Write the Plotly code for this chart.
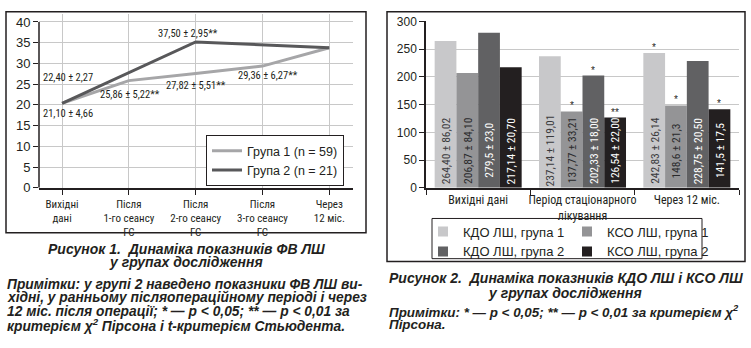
import plotly.graph_objects as go

W, H = 751, 348
def fx(p): return p / W
def fy(p): return (H - p) / H

TXT = "#231f20"
FONT = "Liberation Sans, Arial, sans-serif"
NARROW = "Liberation Sans Narrow, Arial Narrow, Roboto Condensed, Liberation Sans, sans-serif"

# ---------------- Figure 1 data ----------------
stages = ["Вихідні<br>дані", "Після<br>1-го сеансу<br>ГС", "Після<br>2-го сеансу<br>ГС",
          "Після<br>3-го сеансу<br>ГС", "Через<br>12 міс."]
group1 = [20.4, 25.86, 27.6, 29.36, 33.8]
group2 = [20.4, None, 35.2, None, 33.8]
line_labels = ["22,40 ± 2,27", "21,10 ± 4,66", "25,86 ± 5,22**", "27,82 ± 5,51**",
               "29,36 ± 6,27**", "34,0 ± 2,6**", "35,65 ± 5,25*", "37,50 ± 2,95**"]
# label anchor (x index, y value, xanchor)
label_pos = [(-0.314, 26.6, "left"), (-0.314, 18.0, "left"), (1.01, 22.4, "center"),
             (2.0, 24.7, "center"), (3.08, 27.0, "center"), (4.37, 30.25, "right"),
             (4.42, 36.7, "right"), (1.88, 37.2, "center")]

# ---------------- Figure 2 data ----------------
periods = ["Вихідні дані", "Період стаціонарного<br>лікування", "Через 12 міс."]
series_names = ["КДО ЛШ, група 1", "КСО ЛШ, група 1", "КДО ЛШ, група 2", "КСО ЛШ, група 2"]
kdo1 = [264.40, 237.14, 242.83]
kso1 = [206.87, 137.77, 148.6]
kdo2 = [279.5, 202.33, 228.75]
kso2 = [217.14, 126.54, 141.5]
kdo1_txt = ["264,40 ± 86,02", "237,14 ± 119,01", "242,83 ± 26,14"]
kso1_txt = ["206,87 ± 84,10", "137,77 ± 33,21", "148,6 ± 21,3"]
kdo2_txt = ["279,5 ± 23,0", "202,33 ± 18,00", "228,75 ± 20,50"]
kso2_txt = ["217,14 ± 20,70", "126,54 ± 22,00", "141,5 ± 17,5"]
kdo1_sig = ["", "", "*"]
kso1_sig = ["", "*", "*"]
kdo2_sig = ["", "*", ""]
kso2_sig = ["", "**", "*"]
bar_colors = ["#c8c8ca", "#949496", "#616163", "#231f20"]
txt_colors = ["#3a3a3c", "#2a2a2c", "#ffffff", "#ffffff"]

fig = go.Figure()

# lines
fig.add_trace(go.Scatter(x=list(range(5)), y=group1, mode="lines", name="Група 1 (n = 59)",
                         line=dict(color="#a6a6a8", width=3), xaxis="x", yaxis="y",
                         legend="legend", connectgaps=True))
fig.add_trace(go.Scatter(x=list(range(5)), y=group2, mode="lines", name="Група 2 (n = 21)",
                         line=dict(color="#58585a", width=3), xaxis="x", yaxis="y",
                         legend="legend", connectgaps=True))

# bars
vals = [kdo1, kso1, kdo2, kso2]
txts = [kdo1_txt, kso1_txt, kdo2_txt, kso2_txt]
sigs = [kdo1_sig, kso1_sig, kdo2_sig, kso2_sig]
for j in range(4):
    fig.add_trace(go.Bar(x=periods, y=vals[j], name=series_names[j], marker=dict(color=bar_colors[j], line=dict(width=0)),
                         xaxis="x2", yaxis="y2", showlegend=False))
# legend proxies
for j in range(4):
    fig.add_trace(go.Scatter(x=[None], y=[None], mode="markers", name=series_names[j],
                             marker=dict(symbol="square", size=10, color=bar_colors[j]),
                             xaxis="x2", yaxis="y2", legend="legend2" if j % 2 == 0 else "legend3"))

BARGAP = 0.166
bw = (1 - BARGAP) / 4
annotations = []
for j in range(4):
    for i in range(3):
        xp = i + (j - 1.5) * bw
        annotations.append(dict(x=xp, y=67, xref="x2", yref="y2", text=txts[j][i], textangle=-90,
                                showarrow=False, font=dict(family=NARROW, size=11.5, color=txt_colors[j])))
        if sigs[j][i]:
            annotations.append(dict(x=xp, y=vals[j][i], xref="x2", yref="y2", text=sigs[j][i],
                                    showarrow=False, yanchor="bottom", yshift=-2,
                                    font=dict(family=FONT, size=10, color=TXT)))

for t, (xv, yv, xa) in zip(line_labels, label_pos):
    annotations.append(dict(x=xv, y=yv, xref="x", yref="y", text=t, xanchor=xa, showarrow=False,
                            font=dict(family=NARROW, size=10.5, color=TXT)))

# captions
cap = dict(family=FONT, size=14, color=TXT)
notef = dict(family=FONT, size=13.8, color=TXT)
notef2 = dict(family=FONT, size=13.4, color=TXT)
captions = [
    dict(x=fx(186), y=fy(253), xanchor="center", text="<b><i>Рисунок 1.  Динаміка показників ФВ ЛШ</i></b>", font=cap),
    dict(x=fx(186), y=fy(267), xanchor="center", text="<b><i>у групах дослідження</i></b>", font=cap),
    dict(x=fx(6), y=fy(290), xanchor="left", text="<b><i>Примітки: у групі 2 наведено показники ФВ ЛШ ви-</i></b>", font=notef),
    dict(x=fx(6), y=fy(304), xanchor="left", text="<b><i>хідні, у ранньому післяопераційному періоді і через</i></b>", font=notef),
    dict(x=fx(6), y=fy(318), xanchor="left", text="<b><i>12 міс. після операції; * — p &lt; 0,05; ** — p &lt; 0,01 за</i></b>", font=notef),
    dict(x=fx(6), y=fy(332), xanchor="left", text="<b><i>критерієм χ<sup>2</sup> Пірсона і t-критерієм Стьюдента.</i></b>", font=notef),
    dict(x=fx(388), y=fy(283), xanchor="left", text="<b><i>Рисунок 2.  Динаміка показників КДО ЛШ і КСО ЛШ</i></b>", font=cap),
    dict(x=fx(565), y=fy(299), xanchor="center", text="<b><i>у групах дослідження</i></b>", font=cap),
    dict(x=fx(388), y=fy(318), xanchor="left", text="<b><i>Примітки: * — p &lt; 0,05; ** — p &lt; 0,01 за критерієм χ<sup>2</sup></i></b>", font=notef2),
    dict(x=fx(388), y=fy(332), xanchor="left", text="<b><i>Пірсона.</i></b>", font=notef2),
]
for a in captions:
    a.update(xref="paper", yref="paper", yanchor="middle", showarrow=False, borderpad=0)
annotations += captions

shapes = [
    dict(type="rect", xref="paper", yref="paper", x0=fx(6), x1=fx(366), y0=fy(236), y1=fy(5),
         line=dict(color="#231f20", width=1.5)),
    dict(type="rect", xref="paper", yref="paper", x0=fx(387), x1=fx(745), y0=fy(266), y1=fy(5),
         line=dict(color="#231f20", width=1.5)),
    dict(type="rect", xref="paper", yref="paper", x0=fx(432), x1=fx(702), y0=fy(263), y1=fy(221),
         line=dict(color="#231f20", width=1)),
    dict(type="line", xref="x domain", yref="y", x0=0, x1=0, y0=0, y1=40,
         line=dict(color="#231f20", width=1.5)),
]

grid = "#c8c8c8"
fig.update_layout(
    width=W, height=H, margin=dict(l=0, r=0, t=0, b=0),
    paper_bgcolor="white", plot_bgcolor="white",
    font=dict(family=FONT, color=TXT),
    barmode="group", bargap=BARGAP, bargroupgap=0,
    xaxis=dict(domain=[fx(39), fx(353)], range=[-0.345, 4.355], tickvals=list(range(5)), ticktext=stages,
               showgrid=True, gridcolor=grid, gridwidth=1, zeroline=False, showline=True,
               linecolor="#231f20", linewidth=1.5, ticks="outside", ticklen=5, tickcolor="#231f20",
               tickangle=0, tickfont=dict(family=NARROW, size=11, color=TXT), anchor="y"),
    yaxis=dict(domain=[fy(189), fy(7)], range=[0, 42], tickvals=list(range(0, 41, 5)),
               showgrid=True, gridcolor=grid, gridwidth=1, zeroline=False, showline=False,
               ticks="outside", ticklen=5, tickcolor="#231f20",
               tickfont=dict(family=FONT, size=13, color=TXT), anchor="x"),
    xaxis2=dict(domain=[fx(426), fx(739)], type="category", tickson="boundaries", ticks="outside",
                ticklen=5, tickcolor="#231f20", showline=True, linecolor="#231f20", linewidth=1.5,
                tickangle=0, showgrid=False, tickfont=dict(family=NARROW, size=12, color=TXT), anchor="y2"),
    yaxis2=dict(domain=[fy(189), fy(15)], range=[0, 300], dtick=50, showgrid=True, gridcolor=grid,
                zeroline=False, showline=True, linecolor="#231f20", linewidth=1.5, ticks="outside",
                ticklen=5, tickcolor="#231f20", tickfont=dict(family=FONT, size=12, color=TXT), anchor="x2"),
    legend=dict(x=fx(206), y=fy(134), xanchor="left", yanchor="top", bordercolor="#231f20", borderwidth=1,
                bgcolor="white", font=dict(family=FONT, size=12.5, color=TXT), tracegroupgap=0),
    legend2=dict(x=fx(423), y=fy(219), xanchor="left", yanchor="top", bgcolor="rgba(0,0,0,0)",
                 font=dict(family=FONT, size=13, color=TXT), itemsizing="trace"),
    legend3=dict(x=fx(567), y=fy(219), xanchor="left", yanchor="top", bgcolor="rgba(0,0,0,0)",
                 font=dict(family=FONT, size=13, color=TXT), itemsizing="trace"),
    annotations=annotations, shapes=shapes,
)

fig.write_html("out.html")
